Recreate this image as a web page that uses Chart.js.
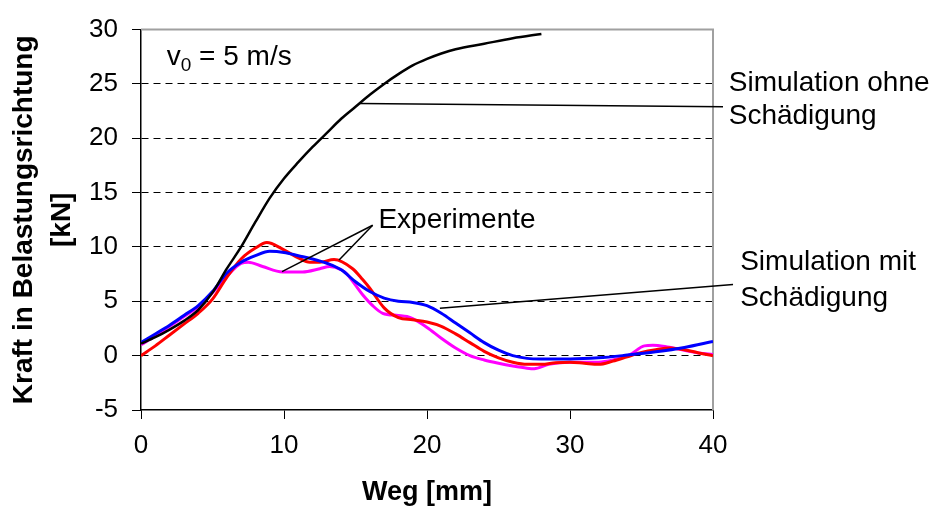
<!DOCTYPE html>
<html>
<head>
<meta charset="utf-8">
<script src="https://cdn.jsdelivr.net/npm/chart.js@4"></script>
<style>
  html, body { margin: 0; padding: 0; background: #fff; }
  canvas { display: block; }
</style>
</head>
<body>
<canvas id="chart" width="937" height="513"></canvas>
<script>
// Weg [mm] / Kraft [kN] pairs for each curve
const simOhneX = [0, 1, 2, 3, 4, 5, 6, 7, 8, 9, 10, 11, 12, 13, 14, 15, 16, 17, 18, 19, 20, 21, 22, 24, 26, 28];
const simOhneY = [1.1, 1.7, 2.4, 3.2, 4.2, 5.8, 8.0, 10.0, 12.3, 14.5, 16.3, 17.8, 19.2, 20.5, 21.8, 22.9, 24.0, 25.0, 25.9, 26.7, 27.3, 27.8, 28.2, 28.7, 29.2, 29.6];

const simMitX = [0, 1, 2, 3, 4, 5, 6, 7, 8, 9, 10, 11, 12, 13, 14, 15, 16, 17, 18, 19, 20, 21, 22, 23, 24, 25, 26, 27, 28, 30, 32, 34, 36, 38, 40];
const simMitY = [1.2, 2.0, 2.8, 3.7, 4.6, 5.9, 7.6, 8.6, 9.2, 9.6, 9.5, 9.2, 8.9, 8.5, 7.9, 6.8, 5.9, 5.3, 5.0, 4.9, 4.6, 3.9, 3.0, 2.1, 1.2, 0.5, 0.0, -0.25, -0.3, -0.3, -0.2, 0.05, 0.35, 0.75, 1.3];

const exp1X = [0, 1, 2, 3, 4, 5, 6, 7, 8, 8.8, 9.9, 11, 11.8, 12.5, 13.5, 14.8, 15.5, 16, 17, 18, 19, 20, 21, 22, 23, 24, 25, 26, 27, 28, 29, 30, 31, 32, 33, 34, 35, 36, 37, 38, 39, 40];
const exp1Y = [0.0, 0.9, 1.9, 2.9, 3.9, 5.2, 7.2, 8.9, 9.9, 10.4, 9.8, 9.0, 8.6, 8.6, 8.85, 8.0, 7.0, 6.2, 4.4, 3.5, 3.3, 3.1, 2.7, 2.0, 1.2, 0.4, -0.2, -0.6, -0.8, -0.8, -0.65, -0.6, -0.7, -0.8, -0.5, -0.1, 0.3, 0.55, 0.7, 0.55, 0.25, 0.0];

const exp2X = [0, 1, 2, 3, 4, 5, 6, 7, 7.5, 8.5, 9.9, 11.3, 12.5, 13.2, 14, 14.4, 15.5, 16.2, 16.9, 18, 18.6, 19, 20, 21, 22, 23, 24, 25, 26, 27, 27.5, 28.5, 30, 32, 33, 34.2, 35.2, 35.8, 36.8, 38, 39, 40];
const exp2Y = [1.0, 1.8, 2.7, 3.6, 4.5, 5.8, 7.3, 8.5, 8.6, 8.2, 7.7, 7.7, 8.0, 8.2, 7.9, 7.5, 5.6, 4.6, 3.9, 3.7, 3.6, 3.4, 2.6, 1.6, 0.7, 0.0, -0.4, -0.7, -0.95, -1.15, -1.2, -0.8, -0.6, -0.6, -0.4, 0.1, 0.9, 0.95, 0.8, 0.5, 0.25, 0.1];

const xTicks = [0, 10, 20, 30, 40];
const yTicks = [-5, 0, 5, 10, 15, 20, 25, 30];

const toPoints = (xs, ys) => xs.map((x, i) => ({ x: x, y: ys[i] }));

// callouts, in axis units
const leaderLines = [
  [[15.3, 23.2], [40.7, 22.9]],
  [[16.2, 12.0], [9.86, 7.73]],
  [[16.2, 12.0], [13.85, 8.8]],
  [[20.9, 4.36], [41.4, 6.55]]
];
const noteTexts = [
  { text: 'Simulation ohne', x: 41.1, y: 25.1 },
  { text: 'Schädigung', x: 41.1, y: 22.0 },
  { text: 'Experimente', x: 16.6, y: 12.45 },
  { text: 'Simulation mit', x: 41.9, y: 8.6 },
  { text: 'Schädigung', x: 41.9, y: 5.3 }
];

const FONT = "'Liberation Sans', Arial, sans-serif";

const callouts = {
  id: 'callouts',
  beforeDatasetsDraw(chart) {
    const { ctx, chartArea: a } = chart;
    // grey frame on top and right
    ctx.save();
    ctx.strokeStyle = '#a0a0a0';
    ctx.lineWidth = 2;
    ctx.beginPath();
    ctx.moveTo(a.left, a.top);
    ctx.lineTo(a.right, a.top);
    ctx.lineTo(a.right, a.bottom);
    ctx.stroke();
    ctx.restore();
  },
  afterDatasetsDraw(chart) {
    const { ctx } = chart;
    const xs = chart.scales.x, ys = chart.scales.y;
    const px = v => xs.getPixelForValue(v);
    const py = v => ys.getPixelForValue(v);

    ctx.save();
    ctx.strokeStyle = '#000';
    ctx.lineWidth = 1.5;
    leaderLines.forEach(([p, q]) => {
      ctx.beginPath();
      ctx.moveTo(px(p[0]), py(p[1]));
      ctx.lineTo(px(q[0]), py(q[1]));
      ctx.stroke();
    });

    ctx.fillStyle = '#000';
    ctx.textBaseline = 'middle';
    ctx.textAlign = 'left';
    ctx.font = '28px ' + FONT;
    noteTexts.forEach(n => ctx.fillText(n.text, px(n.x), py(n.y)));

    // v0 = 5 m/s with subscript
    ctx.textBaseline = 'alphabetic';
    let x = px(1.8);
    const base = py(26.7);
    ctx.font = '28px ' + FONT;
    ctx.fillText('v', x, base);
    x += ctx.measureText('v').width;
    ctx.font = '19px ' + FONT;
    ctx.fillText('0', x, base + 6);
    x += ctx.measureText('0').width;
    ctx.font = '28px ' + FONT;
    ctx.fillText(' = 5 m/s', x, base);
    ctx.restore();
  }
};

const line = (xs, ys, color, width) => ({
  data: toPoints(xs, ys),
  borderColor: color,
  borderWidth: width,
  pointRadius: 0,
  cubicInterpolationMode: 'monotone',
  fill: false
});

new Chart(document.getElementById('chart'), {
  type: 'line',
  data: {
    datasets: [
      line(simOhneX, simOhneY, '#000000', 2.5),
      line(simMitX, simMitY, '#0000ff', 3),
      line(exp1X, exp1Y, '#ff0000', 3),
      line(exp2X, exp2Y, '#ff00ff', 3)
    ]
  },
  options: {
    responsive: false,
    animation: false,
    devicePixelRatio: 1,
    layout: { padding: { top: 25, right: 224, left: 0, bottom: 0 } },
    plugins: { legend: { display: false }, tooltip: { enabled: false } },
    scales: {
      x: {
        type: 'linear',
        min: 0,
        max: 40,
        afterBuildTicks: s => { s.ticks = xTicks.map(v => ({ value: v })); },
        afterFit: s => { s.height = 103; },
        grid: { drawOnChartArea: false, drawTicks: true, tickLength: 9, tickColor: '#000', tickWidth: 1 },
        border: { display: true, color: '#000', width: 1.5 },
        ticks: { color: '#000', padding: 11, maxRotation: 0, font: { family: FONT, size: 26 } },
        title: {
          display: true,
          text: 'Weg [mm]',
          color: '#000',
          padding: { top: 0, bottom: 4 },
          font: { family: FONT, size: 27, weight: 'bold' }
        }
      },
      y: {
        min: -5,
        max: 30,
        afterBuildTicks: s => { s.ticks = yTicks.map(v => ({ value: v })); },
        afterFit: s => { s.width = 141; },
        grid: {
          color: c => (c.tick && (c.tick.value === -5 || c.tick.value === 30)) ? 'rgba(0,0,0,0)' : '#000',
          lineWidth: 1,
          drawTicks: true,
          tickLength: 9,
          tickColor: '#000',
          tickWidth: 1
        },
        border: { display: true, color: '#000', width: 1.5, dash: [7, 5] },
        ticks: { color: '#000', padding: 14, font: { family: FONT, size: 26 } },
        title: {
          display: true,
          text: ['Kraft in Belastungsrichtung', '[kN]'],
          color: '#000',
          padding: { top: 5, bottom: 0 },
          font: { family: FONT, size: 28, weight: 'bold', lineHeight: 1.36 }
        }
      }
    }
  },
  plugins: [callouts]
});
</script>
</body>
</html>
